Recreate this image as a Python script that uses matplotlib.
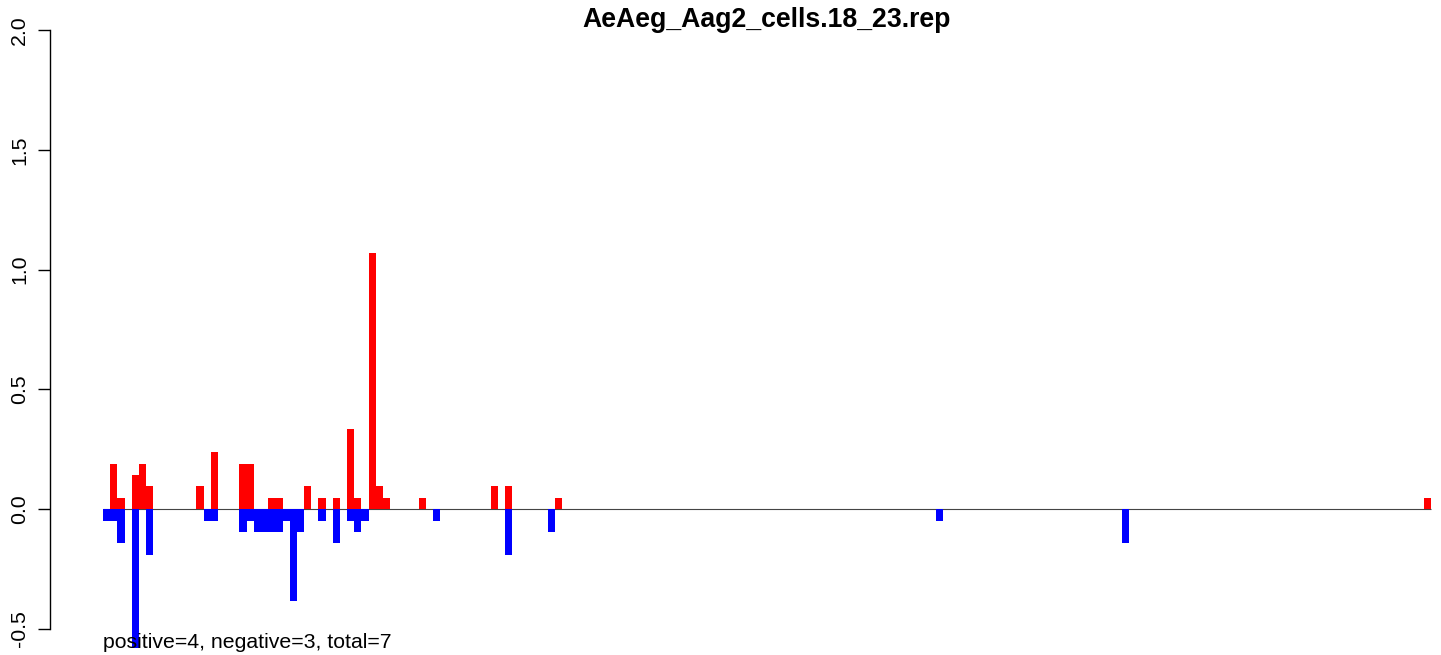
import matplotlib
matplotlib.use("Agg")
import matplotlib.pyplot as plt

plt.rcParams['font.family'] = ['Liberation Sans', 'DejaVu Sans']

title = "AeAeg_Aag2_cells.18_23.rep"
n_pos = 185  # number of positions along the x axis

# positive (red) bars: position index -> value
pos_idx = [1, 2, 4, 5, 6, 13, 15, 19, 20, 23, 24, 28, 30, 32, 34, 35, 37, 38, 39, 44, 54, 56, 63, 184]
pos_val = [0.19, 0.048, 0.143, 0.19, 0.095, 0.095, 0.24, 0.19, 0.19, 0.048, 0.048, 0.095,
           0.048, 0.048, 0.333, 0.048, 1.07, 0.095, 0.048, 0.048, 0.095, 0.095, 0.048, 0.048]

# negative (blue) bars
neg_idx = [0, 1, 2, 4, 6, 14, 15, 19, 20, 21, 22, 23, 24, 25, 26, 27, 30, 32, 34, 35, 36,
           46, 56, 62, 116, 142]
neg_val = [-0.048, -0.048, -0.143, -0.58, -0.19, -0.048, -0.048, -0.095, -0.048, -0.095,
           -0.095, -0.095, -0.095, -0.048, -0.385, -0.095, -0.048, -0.143, -0.048, -0.095,
           -0.048, -0.048, -0.19, -0.095, -0.048, -0.143]

yticks = [-0.5, 0.0, 0.5, 1.0, 1.5, 2.0]
ytick_labels = ["-0.5", "0.0", "0.5", "1.0", "1.5", "2.0"]
summary = "positive=4, negative=3, total=7"

W, H = 1441, 655
fig = plt.figure(figsize=(W / 100, H / 100), dpi=100)
# plot region runs past the right edge like the original device
ax = fig.add_axes([50 / W, 2 / H, 1434 / W, 647 / H])

ax.hlines(0, 0, n_pos, color="#444444", lw=0.8, zorder=1)
ax.bar(pos_idx, pos_val, width=1, align="edge", color="#ff0000", linewidth=0, zorder=2)
ax.bar(neg_idx, neg_val, width=1, align="edge", color="#0000ff", linewidth=0, zorder=2)

ax.set_xlim(-0.04 * n_pos, 1.04 * n_pos)
ax.set_ylim(-0.6, 2.1)

for s in ["top", "right", "bottom"]:
    ax.spines[s].set_visible(False)
ax.spines["left"].set_bounds(-0.5, 2.0)
ax.spines["left"].set_linewidth(1.0)
ax.set_xticks([])
ax.set_yticks(yticks)
ax.set_yticklabels(ytick_labels, rotation=90, va="center")
ax.tick_params(axis="y", length=9, width=1.0, pad=6, labelsize=15.3)

fig.text(767 / W, (H - 27) / H, title, ha="center", va="baseline",
         fontsize=19.2, fontweight="bold")
fig.text(103 / W, (H - 648) / H, summary, ha="left", va="baseline", fontsize=15.3)

fig.savefig("out.png", dpi=100)
